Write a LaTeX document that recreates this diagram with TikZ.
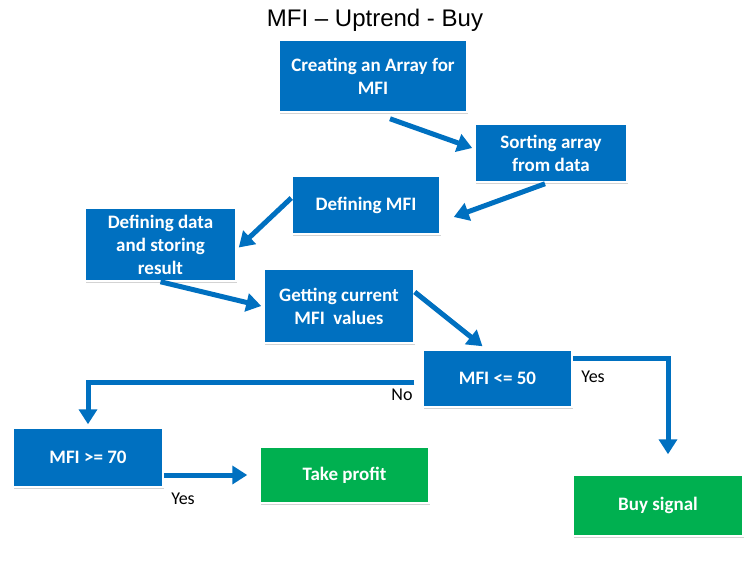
\documentclass[tikz,border=0pt]{standalone}
\usepackage{fontspec}
\setmainfont{Carlito}
\newfontfamily\titlefont{Liberation Sans}
\usepackage{tikz}
\usetikzlibrary{arrows.meta,positioning,calc,shadows}
\definecolor{mfiblue}{HTML}{0070C0}
\definecolor{mfigreen}{HTML}{00B050}

\begin{document}
\begin{tikzpicture}[
  x=1pt, y=-1pt,
  every node/.style={font=\fontsize{18}{21}\selectfont},
  box/.style={rectangle, draw=white, line width=1.5pt, fill=mfiblue, text=white, align=center, inner sep=2pt,
    font=\fontsize{19}{23}\selectfont\bfseries,
    drop shadow={shadow xshift=1pt, shadow yshift=-1.5pt, opacity=0.35}},
  gbox/.style={box, fill=mfigreen},
  lbl/.style={font=\fontsize{18}{21}\selectfont},
  arr/.style={-{Triangle[length=15pt, width=18pt]}, line width=5pt, draw=mfiblue},
  >=Stealth
]
\useasboundingbox (0,0) rectangle (750,563);

% Title
\node[font=\titlefont\fontsize{24}{28}\selectfont] (title) at (375,20) {MFI – Uptrend - Buy};

% Setup steps
\node[box, minimum width=188pt, minimum height=72pt] (array) at (373,76) {Creating an Array for\\MFI};
\node[box, minimum width=152pt, minimum height=58pt] (sort) at (551,153) {Sorting array\\from data};
\node[box, minimum width=148pt, minimum height=58pt] (define) at (366,205) {Defining MFI};
\node[box, minimum width=151pt, minimum height=73pt] (store) at (160.5,244.5) {Defining data\\and storing\\result};
\node[box, minimum width=150pt, minimum height=74pt] (current) at (339,306) {Getting current\\MFI\ \ values};

% Conditions
\node[box, minimum width=149pt, minimum height=57pt] (low) at (497.5,378.5) {MFI <= 50};
\node[box, minimum width=150pt, minimum height=59pt] (high) at (88,457.5) {MFI >= 70};

% Results
\node[gbox, minimum width=169pt, minimum height=56pt] (profit) at (344.5,475) {Take profit};
\node[gbox, minimum width=170pt, minimum height=61pt] (buy) at (658,505.5) {Buy signal};

% Arrows
\draw[arr] ([xshift=17pt,yshift=-6pt]array.south) -- ([xshift=-2pt,yshift=5pt]sort.west);
\draw[arr] ([xshift=-6pt,yshift=-1pt]sort.south) -- ([xshift=13pt,yshift=-12pt]define.east);
\draw[arr] ([yshift=7pt]define.west) -- ([xshift=2pt,yshift=-3pt]store.east);
\draw[arr] (store.south) -- ([xshift=-2pt]current.west);
\draw[arr] ([yshift=14pt]current.east) -- ([xshift=-15pt,yshift=3pt]low.north);
\draw[arr] ([yshift=20.5pt]low.east) -| ([xshift=10pt,yshift=20pt]buy.north);
\draw[arr] ([xshift=-8pt,yshift=-3.5pt]low.west) -| ([yshift=3pt]high.north);
\draw[arr] (high.east |- profit.west) -- ([xshift=-12pt]profit.west);

% Branch labels
\node[lbl] (yeslow) at (593,377) {Yes};
\node[lbl] (nolow) at (402,395) {No};
\node[lbl] (yeshigh) at (183,499) {Yes};

\end{tikzpicture}
\end{document}
